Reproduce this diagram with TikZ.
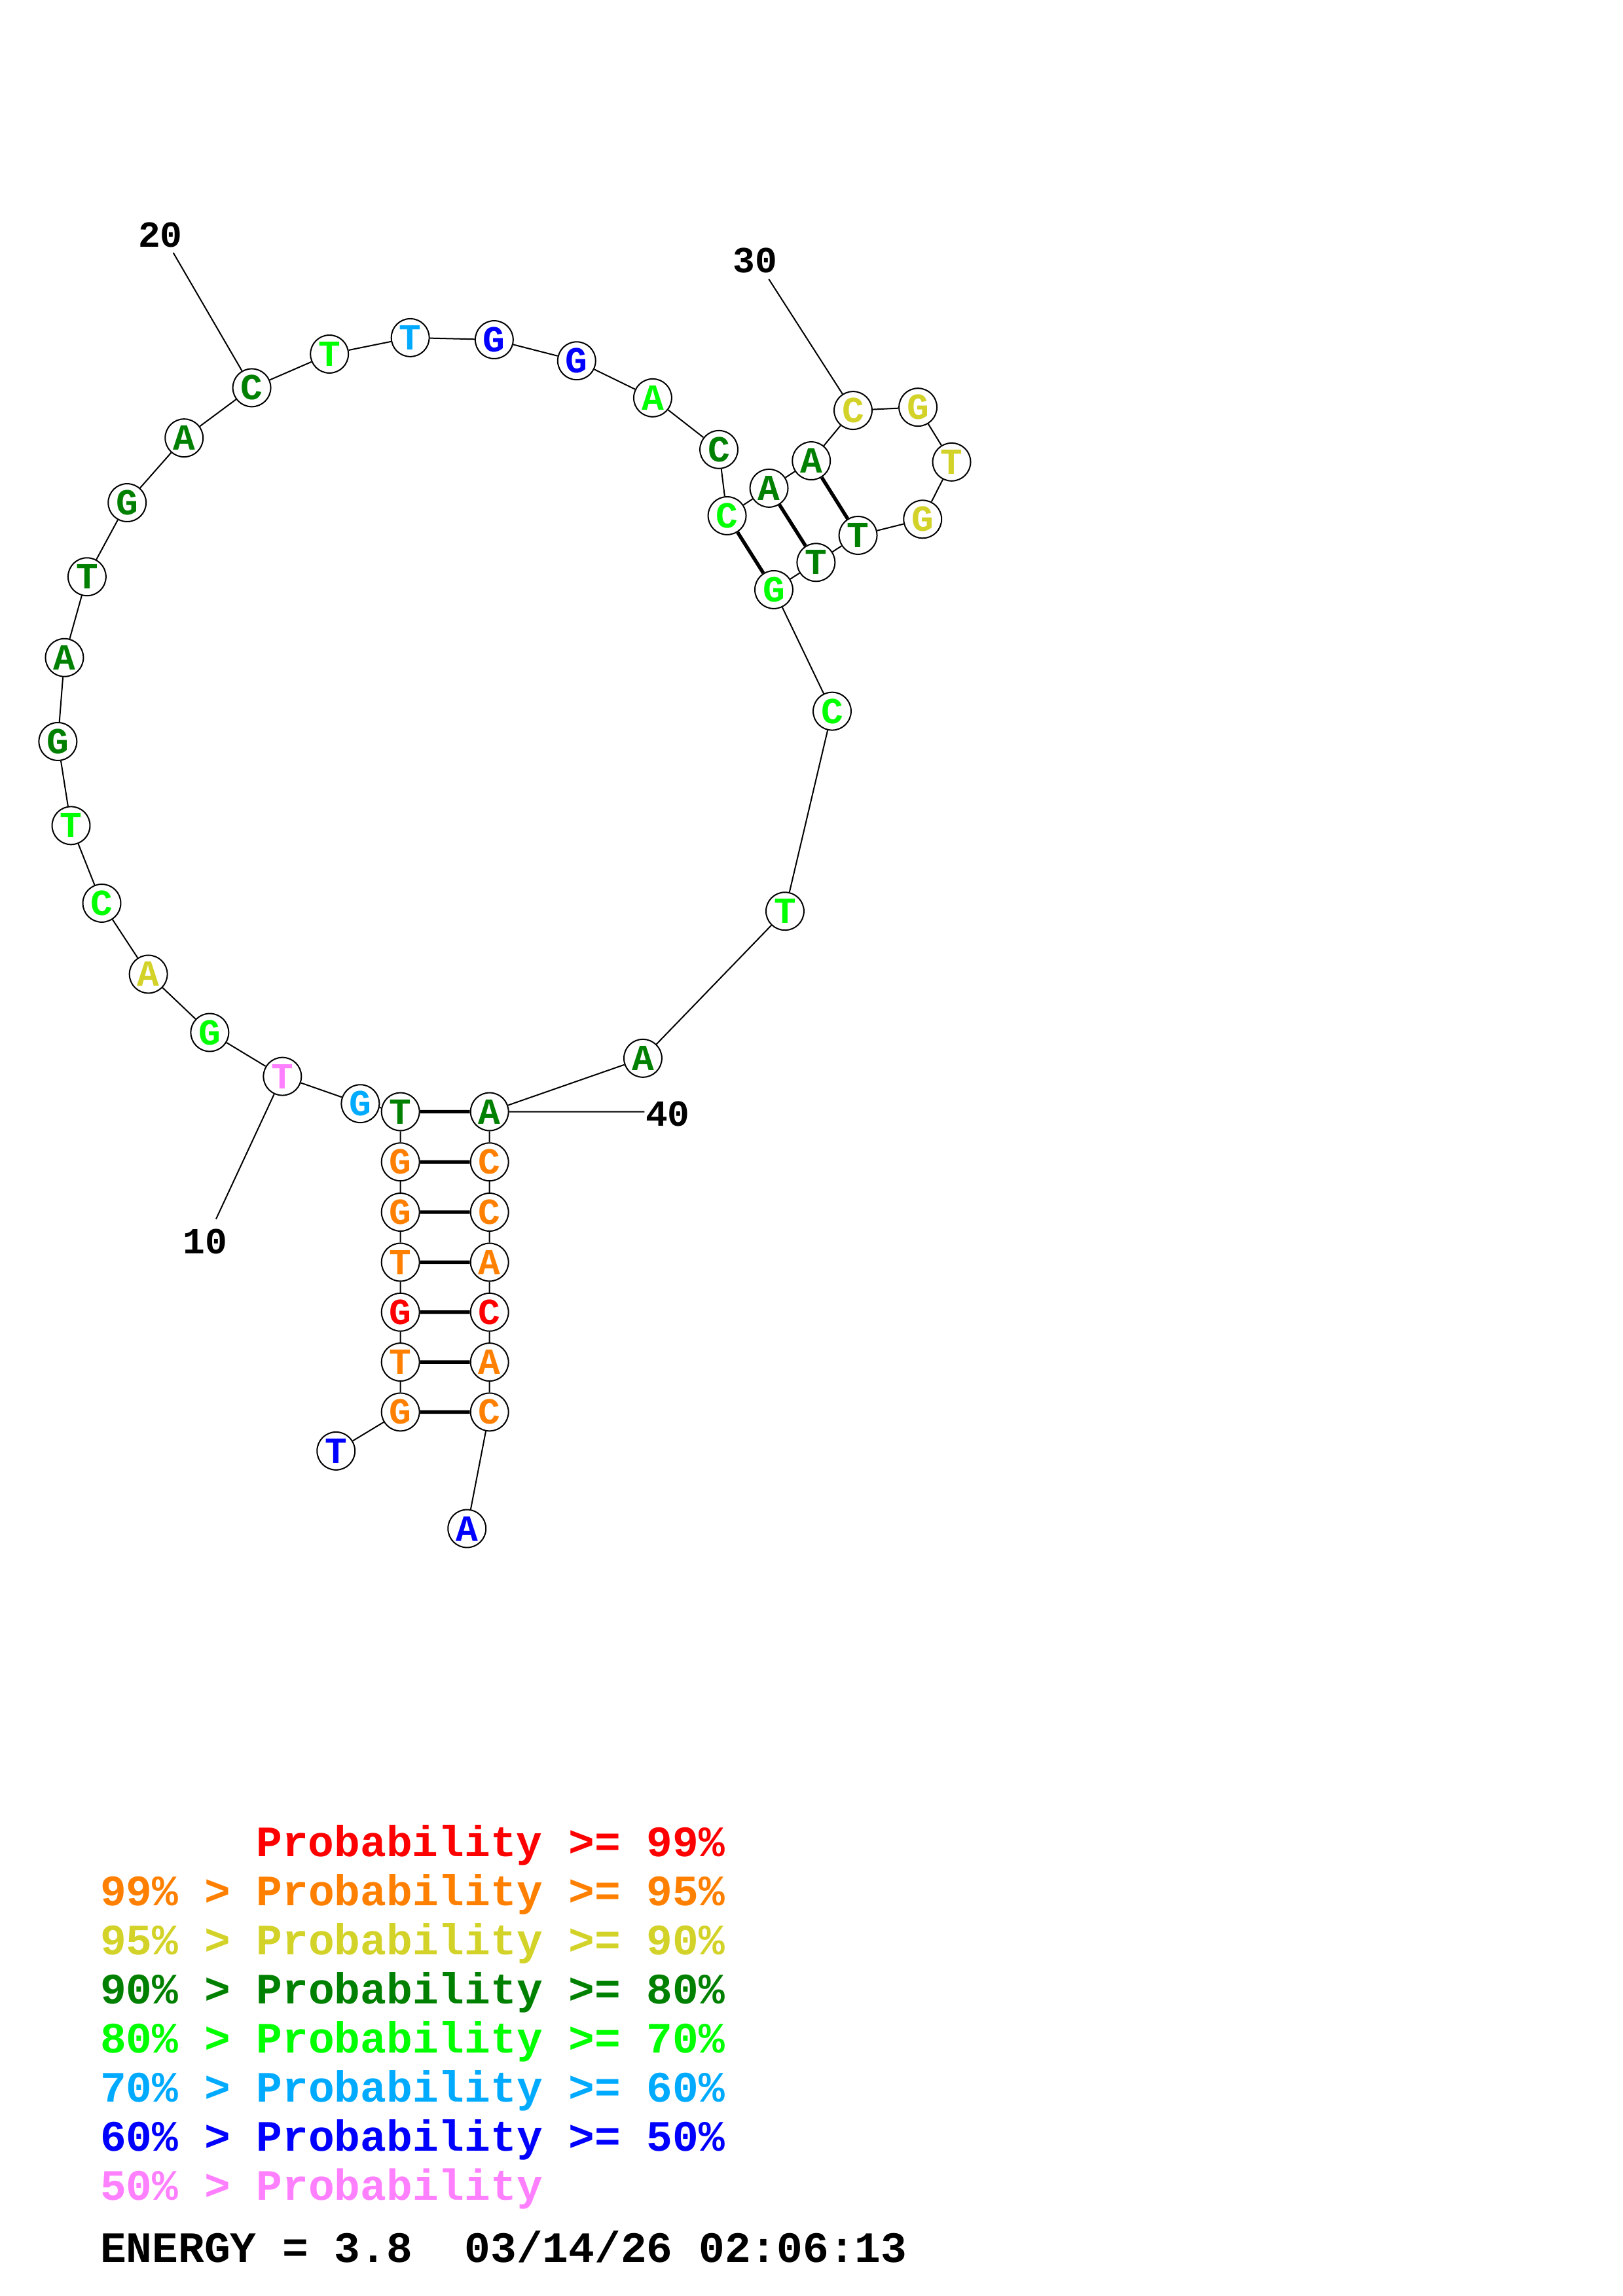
\documentclass[tikz,border=0pt]{standalone}
\usepackage{fontspec}
\setmonofont{Liberation Mono}
\definecolor{pr99}{RGB}{255,0,0}
\definecolor{pr95}{RGB}{255,128,0}
\definecolor{pr90}{RGB}{210,210,40}
\definecolor{pr80}{RGB}{0,128,0}
\definecolor{pr70}{RGB}{0,255,0}
\definecolor{pr60}{RGB}{0,170,255}
\definecolor{pr50}{RGB}{0,0,255}
\definecolor{prlow}{RGB}{255,128,255}
\begin{document}
\begin{tikzpicture}[x=0.537pt, y=-0.537pt, line width=0.48pt,
base/.style={circle, draw, fill=white, inner sep=0pt, minimum size=13.9pt,
  font=\ttfamily\bfseries\fontsize{13.5}{13.5}\selectfont},
pair/.style={line width=1.3pt},
num/.style={inner sep=0pt, font=\ttfamily\bfseries\fontsize{13.5}{13.5}\selectfont},
legend/.style={anchor=base west, inner sep=0pt,
  font=\ttfamily\bfseries\fontsize{15.9}{16}\selectfont}]
\useasboundingbox (0,0) rectangle (1108,1568);

% stem 5' side
\node[base, text=pr50]  (n1)  at (229.4,990.9) {T};
\node[base, text=pr95]  (n2)  at (273.4,964.3) {G};
\node[base, text=pr95]  (n3)  at (273.4,930.2) {T};
\node[base, text=pr99]  (n4)  at (273.4,896.1) {G};
\node[base, text=pr95]  (n5)  at (273.4,862.0) {T};
\node[base, text=pr95]  (n6)  at (273.4,827.8) {G};
\node[base, text=pr95]  (n7)  at (273.4,793.5) {G};
\node[base, text=pr80]  (n8)  at (273.4,759.2) {T};
% big loop
\node[base, text=pr60]  (n9)  at (246.0,753.7) {G};
\node[base, text=prlow] (n10) at (192.8,735.1) {T};
\node[base, text=pr70]  (n11) at (143.2,705.1) {G};
\node[base, text=pr90]  (n12) at (101.3,665.3) {A};
\node[base, text=pr70]  (n13) at (69.5,616.8) {C};
\node[base, text=pr70]  (n14) at (48.5,563.8) {T};
\node[base, text=pr80]  (n15) at (39.5,506.4) {G};
\node[base, text=pr80]  (n16) at (44.0,449.1) {A};
\node[base, text=pr80]  (n17) at (59.4,393.9) {T};
\node[base, text=pr80]  (n18) at (86.8,343.3) {G};
\node[base, text=pr80]  (n19) at (125.7,299.1) {A};
\node[base, text=pr80]  (n20) at (171.9,264.8) {C};
\node[base, text=pr70]  (n21) at (224.9,241.8) {T};
\node[base, text=pr60]  (n22) at (280.1,230.6) {T};
\node[base, text=pr50]  (n23) at (337.4,232.0) {G};
\node[base, text=pr50]  (n24) at (393.7,246.4) {G};
\node[base, text=pr70]  (n25) at (445.6,271.7) {A};
\node[base, text=pr80]  (n26) at (490.8,307.0) {C};
% hairpin
\node[base, text=pr70]  (n27) at (496.4,352.2) {C};
\node[base, text=pr80]  (n28) at (525.0,333.4) {A};
\node[base, text=pr80]  (n29) at (553.9,314.7) {A};
\node[base, text=pr90]  (n30) at (582.4,280.3) {C};
\node[base, text=pr90]  (n31) at (626.7,278.1) {G};
\node[base, text=pr90]  (n32) at (649.7,315.5) {T};
\node[base, text=pr90]  (n33) at (629.9,354.6) {G};
\node[base, text=pr80]  (n34) at (585.8,365.6) {T};
\node[base, text=pr80]  (n35) at (557.1,384.1) {T};
\node[base, text=pr70]  (n36) at (528.3,402.7) {G};
\node[base, text=pr70]  (n37) at (568.1,485.7) {C};
\node[base, text=pr70]  (n38) at (535.9,622.3) {T};
\node[base, text=pr80]  (n39) at (438.9,722.7) {A};
% stem 3' side
\node[base, text=pr80]  (n40) at (334.2,759.2) {A};
\node[base, text=pr95]  (n41) at (334.2,793.5) {C};
\node[base, text=pr95]  (n42) at (334.2,827.8) {C};
\node[base, text=pr95]  (n43) at (334.2,862.0) {A};
\node[base, text=pr99]  (n44) at (334.2,896.1) {C};
\node[base, text=pr95]  (n45) at (334.2,930.2) {A};
\node[base, text=pr95]  (n46) at (334.2,964.3) {C};
\node[base, text=pr50]  (n47) at (318.8,1043.9) {A};

\draw (n1) -- (n2) -- (n3) -- (n4) -- (n5) -- (n6) -- (n7) -- (n8) -- (n9)
  -- (n10) -- (n11) -- (n12) -- (n13) -- (n14) -- (n15) -- (n16) -- (n17)
  -- (n18) -- (n19) -- (n20) -- (n21) -- (n22) -- (n23) -- (n24) -- (n25)
  -- (n26) -- (n27) -- (n28) -- (n29) -- (n30) -- (n31) -- (n32) -- (n33)
  -- (n34) -- (n35) -- (n36) -- (n37) -- (n38) -- (n39) -- (n40) -- (n41)
  -- (n42) -- (n43) -- (n44) -- (n45) -- (n46) -- (n47);

\draw[pair] (n2) -- (n46) (n3) -- (n45) (n4) -- (n44) (n5) -- (n43)
  (n6) -- (n42) (n7) -- (n41) (n8) -- (n40)
  (n27) -- (n36) (n28) -- (n35) (n29) -- (n34);

% position marks
\coordinate (t10) at (147.5,832.5);
\coordinate (t20) at (118.3,172.6);
\coordinate (t30) at (524.8,190.5);
\coordinate (t40) at (440.0,759.2);
\draw (n10) -- (t10) (n20) -- (t20) (n30) -- (t30) (n40) -- (t40);
\node[num] (l10) at (140.0,848.0) {10};
\node[num] (l20) at (109.4,160.6) {20};
\node[num] (l30) at (515.4,178.0) {30};
\node[num] (l40) at (455.9,760.6) {40};

% legend
\node[legend, text=pr99]  (k1) at (174.5,1268.0) {Probability >= 99\%};
\node[legend, text=pr95]  (k2) at (68.0,1301.5) {99\% > Probability >= 95\%};
\node[legend, text=pr90]  (k3) at (68.0,1335.0) {95\% > Probability >= 90\%};
\node[legend, text=pr80]  (k4) at (68.0,1368.5) {90\% > Probability >= 80\%};
\node[legend, text=pr70]  (k5) at (68.0,1402.0) {80\% > Probability >= 70\%};
\node[legend, text=pr60]  (k6) at (68.0,1435.5) {70\% > Probability >= 60\%};
\node[legend, text=pr50]  (k7) at (68.0,1469.0) {60\% > Probability >= 50\%};
\node[legend, text=prlow] (k8) at (68.0,1502.5) {50\% > Probability};
\node[legend] (energy) at (68.0,1545.0) {ENERGY = 3.8\ \ 03/14/26 02:06:13};
\end{tikzpicture}
\end{document}
